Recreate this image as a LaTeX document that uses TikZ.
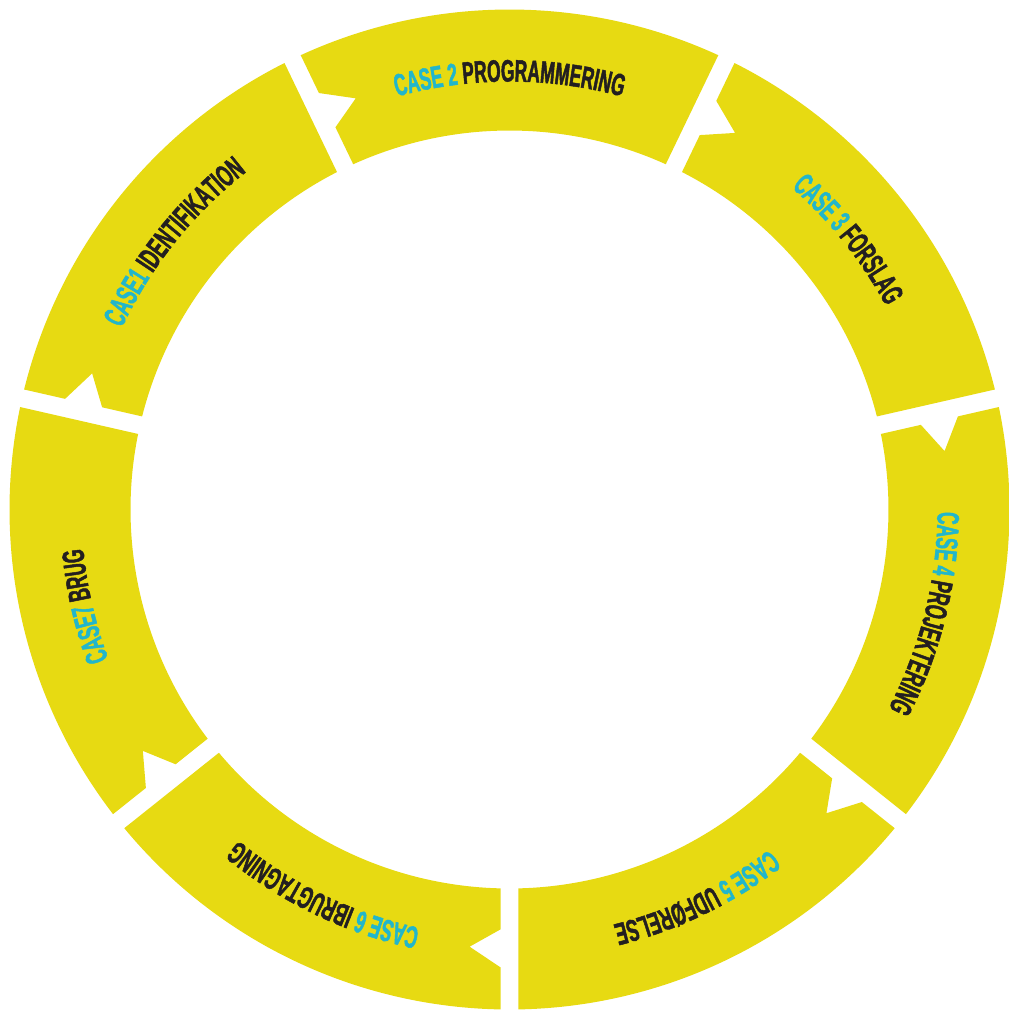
\documentclass[tikz,border=0pt]{standalone}
\usepackage{fontspec}
\newfontfamily\casefont{Liberation Sans}[FakeStretch=0.56,FakeBold=1.5]
\newcommand\lblfont{\casefont\bfseries\fontsize{31pt}{31pt}\selectfont}
\newcommand\cyanfmt{\lblfont\color{casecyan}}
\newcommand\darkfmt{\lblfont\color{casedark}}
\usetikzlibrary{decorations.text}
\definecolor{segyellow}{HTML}{E7DA12}
\definecolor{casecyan}{HTML}{22B6CB}
\definecolor{casedark}{HTML}{231F20}
\tikzset{
  segment/.style={fill=segyellow},
  caselabel/.style={decorate, decoration={text along path, text align=center, text={#1}}}
}
\begin{document}
\begin{tikzpicture}
\useasboundingbox (-509.5pt,-500.5pt) rectangle (499.5pt,509.5pt);
% seven ring segments, clockwise, each with a notch at its start
\foreach \k in {1,...,7}{
  \pgfmathsetmacro\ts{167.142857-(\k-1)*51.428571}
  \pgfmathsetmacro\te{\ts-51.428571}
  \pgfmathsetmacro\aOs{\ts-1.031}
  \pgfmathsetmacro\aOe{\te+1.031}
  \pgfmathsetmacro\aIe{\te+1.361}
  \pgfmathsetmacro\aIs{\ts-1.361}
  \pgfmathsetmacro\nA{\ts-1.228}
  \pgfmathsetmacro\nT{\ts-5.21}
  \pgfmathsetmacro\nB{\ts-1.126}
  \fill[segment] (\aOs:500pt) arc[start angle=\aOs, end angle=\aOe, radius=500pt]
    -- (\aIe:379pt) arc[start angle=\aIe, end angle=\aIs, radius=379pt]
    -- (\nA:420pt) -- (\nT:439pt) -- (\nB:458pt) -- cycle;
}
% labels along the ring
\path[caselabel={|\cyanfmt|CASE1 |\darkfmt|IDENTIFIKATION}]
  (181.428571:428pt) arc[start angle=181.428571, end angle=101.428571, radius=428pt];
\path[caselabel={|\cyanfmt|CASE 2 |\darkfmt|PROGRAMMERING}]
  (130:428pt) arc[start angle=130, end angle=50, radius=428pt];
\path[caselabel={|\cyanfmt|CASE 3 |\darkfmt|FORSLAG}]
  (78.571429:428pt) arc[start angle=78.571429, end angle=-1.428571, radius=428pt];
\path[caselabel={|\cyanfmt|CASE 4 |\darkfmt|PROJEKTERING}]
  (26:428pt) arc[start angle=26, end angle=-54, radius=428pt];
\path[caselabel={|\cyanfmt|CASE 5 |\darkfmt|UDFØRELSE}]
  (-24.285714:428pt) arc[start angle=-24.285714, end angle=-104.285714, radius=428pt];
\path[caselabel={|\cyanfmt|CASE 6 |\darkfmt|IBRUGTAGNING}]
  (-75.714286:428pt) arc[start angle=-75.714286, end angle=-155.714286, radius=428pt];
\path[caselabel={|\cyanfmt|CASE7 |\darkfmt|BRUG}]
  (-127.142857:428pt) arc[start angle=-127.142857, end angle=-207.142857, radius=428pt];
\end{tikzpicture}
\end{document}
